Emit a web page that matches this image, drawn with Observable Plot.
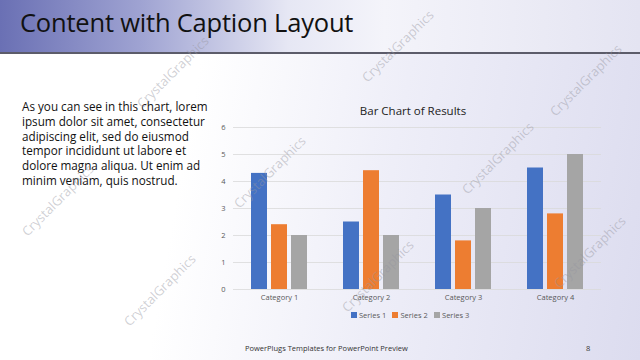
<!DOCTYPE html>
<html>
<head>
<meta charset="utf-8">
<script src="https://cdn.jsdelivr.net/npm/d3@7"></script>
<script src="https://cdn.jsdelivr.net/npm/@observablehq/plot@0.6"></script>
<style>
  html, body { margin: 0; padding: 0; }
  body { width: 640px; height: 360px; overflow: hidden; position: relative;
    font-family: "Open Sans", "Noto Sans", sans-serif;
    background: linear-gradient(100deg, #ffffff 0%, #ffffff 30%, #eeeef8 60%, #dcdcef 100%); }
  #titlebar { position: absolute; left: 0; top: 0; width: 640px; height: 52px;
    background: linear-gradient(90deg, #6a70b4 0%, #9fa3d2 22%, #e6e7f4 45%, #f4f4fa 60%, #e4e4f2 100%); }
  #rule { position: absolute; left: 0; top: 52px; width: 640px; height: 2px; background: #5c5c6a; }
  #title { position: absolute; left: 20px; top: 5px; font-size: 25.5px; color: #111; font-family: "Open Sans", sans-serif; letter-spacing: -0.2px; }
  #caption { position: absolute; left: 22px; top: 99px; width: 200px; font-size: 11.7px; line-height: 14.8px; color: #111; }
  #charttitle { position: absolute; left: 300px; width: 226px; top: 103px; text-align: center; font-size: 11.5px; color: #222; }
  #chart { position: absolute; left: 200px; top: 120px; }
  #legend { position: absolute; left: 300px; width: 226px; top: 298px; display: flex; justify-content: center; }
  #footer { position: absolute; left: 245px; top: 343px; font-size: 7.5px; color: #333; }
  #page { position: absolute; left: 586px; top: 343px; font-size: 7.5px; color: #333; }
  .wm { position: absolute; font-size: 13px; color: rgba(150,150,160,0.45); transform: rotate(-45deg); transform-origin: center; white-space: nowrap; pointer-events: none; }
  .lg-swatch { margin-right: 0.8em !important; }
  .lg-swatch > svg { margin-right: 0.3em !important; }
</style>
</head>
<body>
<div id="titlebar"></div>
<div id="rule"></div>
<div id="title"></div>
<div id="caption"></div>
<div id="charttitle"></div>
<div id="chart"></div>
<div id="legend"></div>
<div id="footer"></div>
<div id="page"></div>
<div id="wms"></div>
<script>
const slideTitle = "Content with Caption Layout";
const captionText = "As you can see in this chart, lorem ipsum dolor sit amet, consectetur adipiscing elit, sed do eiusmod tempor incididunt ut labore et dolore magna aliqua. Ut enim ad minim veniam, quis nostrud.";
const chartTitle = "Bar Chart of Results";
const categories = ["Category 1", "Category 2", "Category 3", "Category 4"];
const seriesNames = ["Series 1", "Series 2", "Series 3"];
const series1 = [4.3, 2.5, 3.5, 4.5];
const series2 = [2.4, 4.4, 1.8, 2.8];
const series3 = [2.0, 2.0, 3.0, 5.0];
const seriesColors = ["#4472C4", "#ED7D31", "#A5A5A5"];
const yTicks = [0, 1, 2, 3, 4, 5, 6];
const footerText = "PowerPlugs Templates for PowerPoint Preview";
const pageNumber = "8";
const watermarkText = "CrystalGraphics";
const watermarkSpots = [[175,72],[400,46],[588,80],[60,200],[272,172],[500,158],[162,290],[380,276],[592,252]];

document.getElementById("title").textContent = slideTitle;
document.getElementById("caption").textContent = captionText;
document.getElementById("charttitle").textContent = chartTitle;
document.getElementById("footer").textContent = footerText;
document.getElementById("page").textContent = pageNumber;

const wms = document.getElementById("wms");
for (const [cx, cy] of watermarkSpots) {
  const d = document.createElement("div");
  d.className = "wm";
  d.textContent = watermarkText;
  d.style.left = (cx - 50) + "px";
  d.style.top = (cy - 9) + "px";
  wms.appendChild(d);
}

const allSeries = [series1, series2, series3];
const data = [];
categories.forEach((c, i) => {
  seriesNames.forEach((s, j) => data.push({category: c, series: s, value: allSeries[j][i]}));
});

const chart = Plot.plot({
  width: 420,
  height: 185,
  marginLeft: 32,
  marginRight: 18,
  marginTop: 7,
  marginBottom: 16,
  style: {background: "transparent", fontFamily: "Open Sans, sans-serif", fontSize: "7.5px", color: "#595959"},
  fx: {domain: categories, padding: 0, axis: "bottom", label: null, tickSize: 0, tickPadding: 5},
  x: {domain: seriesNames, axis: null, paddingInner: 0.22, paddingOuter: 0.87},
  y: {domain: [0, 6], ticks: yTicks, tickFormat: d3.format("d"), tickSize: 0, tickPadding: 8, label: null},
  color: {domain: seriesNames, range: seriesColors},
  marks: [
    Plot.gridY(yTicks, {stroke: "#d9d9d9", strokeOpacity: 1, strokeWidth: 0.8}),
    Plot.barY(data, {fx: "category", x: "series", y: "value", fill: "series"})
  ]
});
document.getElementById("chart").appendChild(chart);

const leg = Plot.legend({
  color: {domain: seriesNames, range: seriesColors},
  legend: "swatches",
  className: "lg",
  swatchSize: 6,
  style: {fontSize: "7.5px", color: "#595959", fontFamily: "Open Sans, sans-serif", background: "transparent"}
});
document.getElementById("legend").appendChild(leg);
</script>
</body>
</html>
